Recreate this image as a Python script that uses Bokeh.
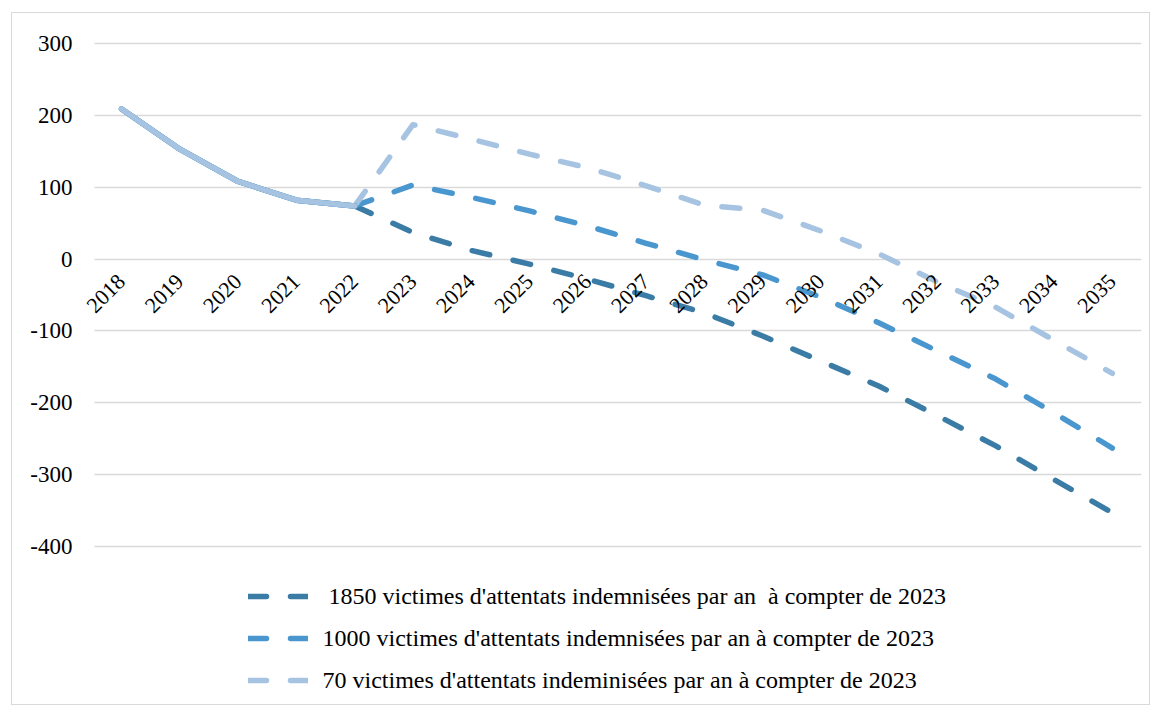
from math import pi
from bokeh.plotting import figure
from bokeh.models import Range1d, FixedTicker, Legend, LegendItem, BoxAnnotation
from bokeh.embed import file_html
from bokeh.resources import INLINE

years = list(range(2018, 2036))
year_labels = [str(y) for y in years]
s1850 = [209, 153, 108, 82, 74, 37, 12, -7, -28, -51, -75, -107, -142, -177, -218, -260, -307, -353]
s1000 = [209, 153, 108, 82, 74, 103, 86, 67, 46, 22, -1, -22, -53, -89, -128, -167, -214, -263]
s70 = [209, 153, 108, 82, 74, 187, 167, 146, 127, 102, 75, 68, 39, 7, -32, -67, -113, -159]
labels = [
    " 1850 victimes d'attentats indemnisées par an  à compter de 2023",
    "1000 victimes d'attentats indemnisées par an à compter de 2023",
    "70 victimes d'attentats indeminisées par an à compter de 2023",
]
colors = ["#3a7ca5", "#4a97cf", "#a6c4e2"]
y_ticks = [-400, -300, -200, -100, 0, 100, 200, 300]
y_tick_labels = ["-400", "-300", "-200", "-100", "0", "100", "200", "300"]
n_hist = 5  # 2018-2022 observed (solid)

FONT = "Liberation Serif"

p = figure(width=1139, height=693, output_backend="svg", toolbar_location=None,
           x_range=Range1d(2017.33, 2035.5), y_range=Range1d(-617.1, 302.8),
           min_border_left=70, min_border_right=10, min_border_top=28, min_border_bottom=4,
           background_fill_color="white", border_fill_color="white",
           margin=(12, 0, 0, 11))
p.styles = {"border": "1px solid #d9d9d9"}
p.outline_line_color = None
p.xgrid.visible = False
p.ygrid.grid_line_color = "#d9d9d9"
p.ygrid.grid_line_width = 1.5

# keep gridlines starting right of the value labels (room for the rotated first category label)
p.add_layout(BoxAnnotation(right=81, right_units="canvas", fill_color="white", fill_alpha=1,
                           line_alpha=0, level="underlay"))

# y axis
p.yaxis.ticker = FixedTicker(ticks=y_ticks)
p.yaxis.major_label_overrides = dict(zip(y_ticks, y_tick_labels))
p.yaxis.axis_line_color = None
p.yaxis.major_tick_line_color = None
p.yaxis.minor_tick_line_color = None
p.yaxis.major_tick_in = 0
p.yaxis.major_tick_out = 0
p.yaxis.major_label_standoff = 10
p.yaxis.major_label_text_font = FONT
p.yaxis.major_label_text_font_size = "23px"
p.yaxis.major_label_text_color = "#000000"

# x axis crossing at 0 (category labels rotated)
p.xaxis.fixed_location = 0
p.xaxis.ticker = FixedTicker(ticks=years)
p.xaxis.major_label_overrides = dict(zip(years, year_labels))
p.xaxis.major_label_orientation = pi / 4
p.xaxis.axis_line_color = None
p.xaxis.major_tick_line_color = None
p.xaxis.minor_tick_line_color = None
p.xaxis.major_tick_in = 0
p.xaxis.major_tick_out = 0
p.xaxis.major_label_standoff = 19
p.xaxis.major_label_text_font = FONT
p.xaxis.major_label_text_font_size = "22px"
p.xaxis.major_label_text_color = "#000000"

series = [s1850, s1000, s70]
dash_renderers = []
for s, c in zip(series, colors):
    r = p.line(years[n_hist - 1:], s[n_hist - 1:], line_color=c, line_width=5.5,
               line_dash="18 24", line_cap="round", line_join="round")
    dash_renderers.append(r)
for s, c in zip(series, colors):
    p.line(years[:n_hist], s[:n_hist], line_color=c, line_width=5.5,
           line_cap="round", line_join="round")

legend = Legend(items=[LegendItem(label=l, renderers=[r]) for l, r in zip(labels, dash_renderers)],
                location=(165.5, 7), orientation="vertical", padding=0, margin=0,
                spacing=12, glyph_width=60, glyph_height=30, label_height=30,
                label_standoff=15, label_text_font=FONT, label_text_font_size="24px",
                label_text_color="#000000",
                background_fill_alpha=0, border_line_alpha=0)
p.add_layout(legend)

open("out.html", "w").write(file_html(p, INLINE))
